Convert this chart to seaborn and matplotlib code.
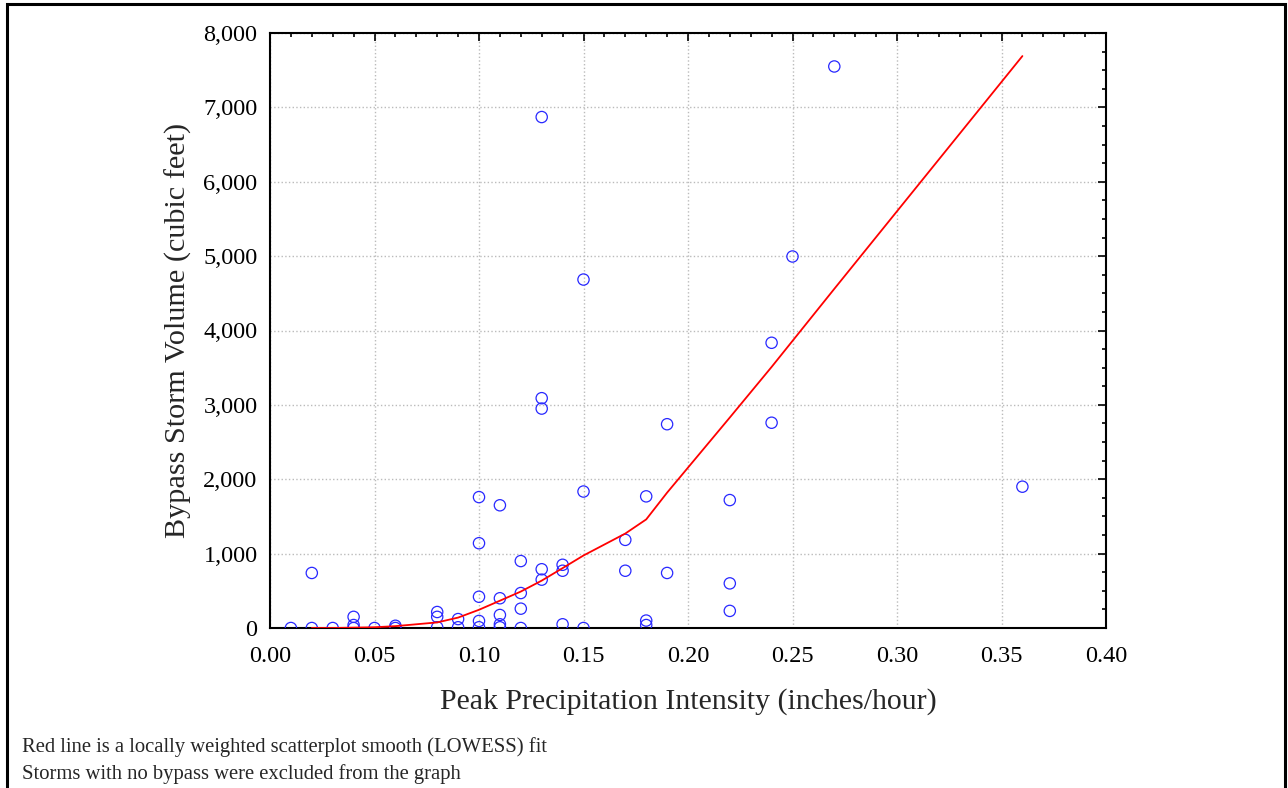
import matplotlib
matplotlib.use('Agg')
import matplotlib.pyplot as plt
import matplotlib.ticker as mticker
from matplotlib.patches import Rectangle
import pandas as pd
import seaborn as sns

# Storm observations (peak intensity in inches/hour, bypass volume in cubic feet)
intensity = [0.01, 0.02, 0.02, 0.03, 0.04, 0.04, 0.04, 0.05, 0.06, 0.06,
             0.08, 0.08, 0.08, 0.09, 0.09,
             0.10, 0.10, 0.10, 0.10, 0.10,
             0.11, 0.11, 0.11, 0.11, 0.11,
             0.12, 0.12, 0.12, 0.12,
             0.13, 0.13, 0.13, 0.13, 0.13,
             0.14, 0.14, 0.14,
             0.15, 0.15, 0.15,
             0.17, 0.17,
             0.18, 0.18, 0.18,
             0.19, 0.19,
             0.22, 0.22, 0.22,
             0.24, 0.24, 0.25, 0.27, 0.36]
volume = [0, 0, 740, 0, 0, 40, 150, 0, 0, 30,
          10, 150, 215, 10, 120,
          10, 95, 420, 1140, 1760,
          10, 50, 175, 400, 1650,
          0, 260, 470, 900,
          650, 790, 2950, 3090, 6870,
          50, 770, 850,
          0, 1835, 4685,
          770, 1185,
          40, 100, 1770,
          740, 2740,
          230, 600, 1720,
          2760, 3835, 4995, 7550, 1900]

# LOWESS fit
fit_x = [0.02, 0.03, 0.04, 0.05, 0.06, 0.08, 0.09, 0.10, 0.11, 0.12, 0.13,
         0.14, 0.15, 0.17, 0.18, 0.19, 0.22, 0.24, 0.25, 0.27, 0.36]
fit_y = [0, 0, 5, 10, 25, 75, 140, 245, 367, 490, 637,
         805, 975, 1270, 1460, 1820, 2830, 3510, 3860, 4560, 7690]

df = pd.DataFrame({'intensity': intensity, 'volume': volume})
df_fit = pd.DataFrame({'x': fit_x, 'y': fit_y})

sns.set_style('white')
plt.rcParams['font.family'] = ['Liberation Serif', 'DejaVu Serif']

fig = plt.figure(figsize=(12.88, 7.88), dpi=100, facecolor='white')
ax = fig.add_axes([270 / 1288, 1 - 628 / 788, 836 / 1288, 595 / 788])

sns.scatterplot(data=df, x='intensity', y='volume', ax=ax, marker='o',
                facecolor='none', edgecolor='#2828ff', s=66, linewidth=0.9,
                zorder=3)
sns.lineplot(data=df_fit, x='x', y='y', ax=ax, color='red', linewidth=1.3,
             sort=False, zorder=4)

ax.set_xlim(0, 0.40)
ax.set_ylim(0, 8000)
ax.xaxis.set_major_locator(mticker.MultipleLocator(0.05))
ax.xaxis.set_minor_locator(mticker.MultipleLocator(0.01))
ax.yaxis.set_major_locator(mticker.MultipleLocator(1000))
ax.yaxis.set_minor_locator(mticker.MultipleLocator(250))
ax.xaxis.set_major_formatter(mticker.FormatStrFormatter('%.2f'))
ax.yaxis.set_major_formatter(mticker.FuncFormatter(lambda v, p: f'{v:,.0f}'))

ax.tick_params(which='both', direction='in', top=True, right=True,
               width=1.2, colors='black', labelsize=17.5)
ax.tick_params(which='major', length=6)
ax.tick_params(which='minor', length=3)
ax.tick_params(axis='x', which='major', pad=13)
ax.tick_params(axis='y', which='major', pad=9)
ax.grid(True, which='major', linestyle=':', color='#bbbbbb', linewidth=1)
for sp in ax.spines.values():
    sp.set_visible(True)
    sp.set_color('black')
    sp.set_linewidth(1.5)

ax.set_xlabel('Peak Precipitation Intensity (inches/hour)', fontsize=21.5, labelpad=15)
ax.set_ylabel('Bypass Storm Volume (cubic feet)', fontsize=21.8, labelpad=8)

fig.text(22 / 1288, 1 - 747 / 788, 'Red line is a locally weighted scatterplot smooth (LOWESS) fit',
         fontsize=14.9, va='center', ha='left')
fig.text(22 / 1288, 1 - 774 / 788, 'Storms with no bypass were excluded from the graph',
         fontsize=14.9, va='center', ha='left')

fig.patches.append(Rectangle((7 / 1288, -0.01), 1278 / 1288, 1.01 - 4 / 788,
                             transform=fig.transFigure, fill=False,
                             edgecolor='black', linewidth=2.2))

fig.savefig('out.png', dpi=100, facecolor='white')
